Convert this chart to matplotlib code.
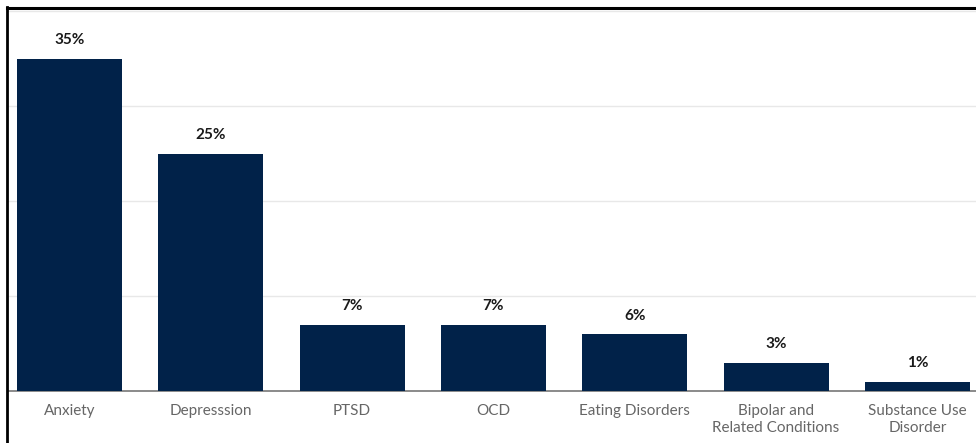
import matplotlib
matplotlib.use("Agg")
import matplotlib.pyplot as plt
from matplotlib.lines import Line2D

categories = ["Anxiety", "Depresssion", "PTSD", "OCD", "Eating Disorders",
              "Bipolar and\nRelated Conditions", "Substance Use\nDisorder"]
values = [35, 25, 7, 7, 6, 3, 1]
value_labels = ["35%", "25%", "7%", "7%", "6%", "3%", "1%"]
grid_ticks = [10, 20, 30, 40]

plt.rcParams['font.family'] = ['Lato', 'DejaVu Sans']

W, H = 976, 443
fig = plt.figure(figsize=(W / 100, H / 100), dpi=100)
ax = fig.add_axes([8 / W, (H - 391) / H, 968 / W, 380 / H])

bar_color = "#012249"
x = list(range(len(categories)))
bars = ax.bar(x, values, width=0.743, color=bar_color, zorder=3)

for b, lab in zip(bars, value_labels):
    ax.annotate(lab, (b.get_x() + b.get_width() / 2, b.get_height()),
                xytext=(0, 8), textcoords="offset points",
                ha="center", va="bottom", fontsize=11, fontweight="bold",
                color="#1a1a1a")

ax.set_xlim(-0.435, 6.415)
ax.set_ylim(0, 40)
ax.set_yticks(grid_ticks)
ax.yaxis.grid(True, color="#e8e8e8", linewidth=1)
ax.set_axisbelow(True)
ax.tick_params(axis="y", left=False, labelleft=False)
ax.tick_params(axis="x", bottom=False, pad=6)
ax.set_xticks(x)
ax.set_xticklabels(categories, fontsize=11, color="#666666", linespacing=1.25)
for s in ["top", "right", "left"]:
    ax.spines[s].set_visible(False)
ax.spines["bottom"].set_color("#777777")
ax.spines["bottom"].set_linewidth(1.2)

# figure border on top and left
fig.add_artist(Line2D([7 / W, 7 / W], [0, 1 - 7 / H], color="black", linewidth=2,
                      transform=fig.transFigure))
fig.add_artist(Line2D([7 / W, 1], [1 - 8 / H, 1 - 8 / H], color="black", linewidth=2.2,
                      transform=fig.transFigure))

fig.savefig("out.png", dpi=100)
